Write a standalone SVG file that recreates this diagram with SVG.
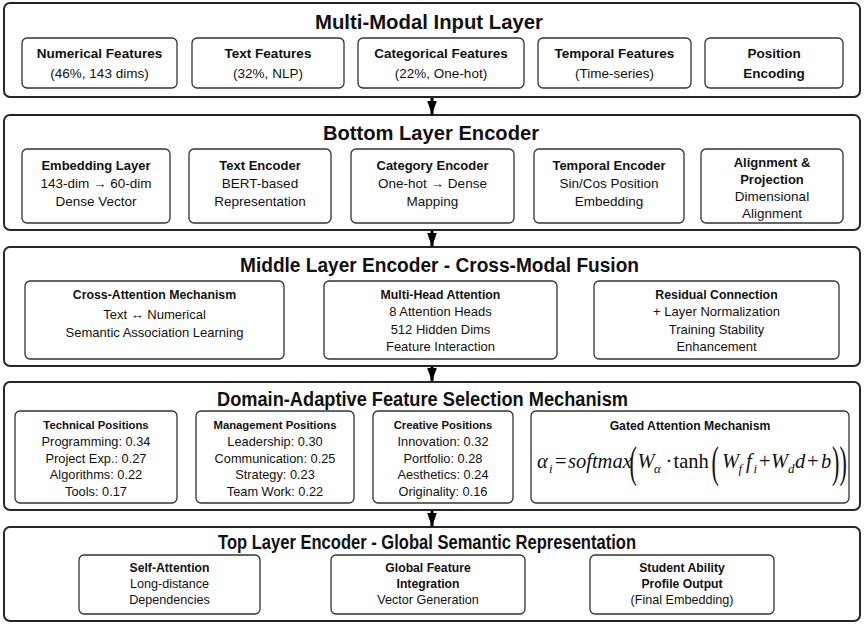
<svg xmlns="http://www.w3.org/2000/svg" width="864" height="625" viewBox="0 0 864 625">
<style>
.panel{fill:#fff;stroke:#262626;stroke-width:2}
.box{fill:#fff;stroke:#333;stroke-width:1.3}
text{font-family:"Liberation Sans",Arial,sans-serif;fill:#111}
.c{text-anchor:middle}
.b{font-weight:bold}
.ttl{font-weight:bold}
.f1{font-size:13.5px}
.f2{font-size:13.5px}
.f2b{font-size:13px}
.f3{font-size:13px}
.f3b{font-size:12.3px}
.f4{font-size:12.8px}
.f4b{font-size:11.3px}
.f5{font-size:12.6px}
.f5b{font-size:12.2px}
.m{font-family:"Liberation Serif","Times New Roman",serif;font-size:20.5px}
.mi{font-family:"Liberation Serif","Times New Roman",serif;font-size:20.5px;font-style:italic}
.ms{font-family:"Liberation Serif","Times New Roman",serif;font-size:13px;font-style:italic}
.mp{font-family:"Liberation Serif","Times New Roman",serif;font-size:44px}
.conn{stroke:#000;stroke-width:3;fill:none}
</style>
<defs>
<marker id="ah" markerUnits="userSpaceOnUse" markerWidth="14" markerHeight="10" refX="14" refY="5" orient="auto">
<path d="M0,0 L14,5 L0,10 Z" fill="#000"/>
</marker>
</defs>
<rect width="864" height="625" fill="#fff"/>

<g id="layer1">
<rect class="panel" x="4" y="3" width="856" height="94" rx="6"/>
<text class="ttl" x="315" y="29" font-size="21" textLength="228" lengthAdjust="spacingAndGlyphs">Multi-Modal Input Layer</text>
</g>
<g id="numerical-features">
<rect class="box" x="22" y="38" width="155" height="50" rx="5"/>
<text class="c b f1" x="99.5" y="58">Numerical Features</text>
<text class="c f1" x="99.5" y="78">(46%, 143 dims)</text>
</g>
<g id="text-features">
<rect class="box" x="192" y="38" width="152" height="50" rx="5"/>
<text class="c b f1" x="268" y="58">Text Features</text>
<text class="c f1" x="268" y="78">(32%, NLP)</text>
</g>
<g id="categorical-features">
<rect class="box" x="358" y="38" width="166" height="50" rx="5"/>
<text class="c b f1" x="441" y="58">Categorical Features</text>
<text class="c f1" x="441" y="78">(22%, One-hot)</text>
</g>
<g id="temporal-features">
<rect class="box" x="538" y="38" width="153" height="50" rx="5"/>
<text class="c b f1" x="614.5" y="58">Temporal Features</text>
<text class="c f1" x="614.5" y="78">(Time-series)</text>
</g>
<g id="position-encoding">
<rect class="box" x="705" y="38" width="138" height="50" rx="5"/>
<text class="c b f1" x="774" y="58">Position</text>
<text class="c b f1" x="774" y="78">Encoding</text>
</g>

<g id="layer2">
<rect class="panel" x="4" y="115" width="856" height="115" rx="6"/>
<text class="ttl" x="323" y="140" font-size="21" textLength="216" lengthAdjust="spacingAndGlyphs">Bottom Layer Encoder</text>
</g>
<g id="embedding-layer">
<rect class="box" x="22" y="149" width="148" height="74" rx="5"/>
<text class="c b f2b" x="96" y="170">Embedding Layer</text>
<text class="c f2" x="96" y="188">143-dim → 60-dim</text>
<text class="c f2" x="96" y="206">Dense Vector</text>
</g>
<g id="text-encoder">
<rect class="box" x="189" y="149" width="142" height="74" rx="5"/>
<text class="c b f2b" x="260" y="170">Text Encoder</text>
<text class="c f2" x="260" y="188">BERT-based</text>
<text class="c f2" x="260" y="206">Representation</text>
</g>
<g id="category-encoder">
<rect class="box" x="351" y="149" width="163" height="74" rx="5"/>
<text class="c b f2b" x="432.5" y="170">Category Encoder</text>
<text class="c f2" x="432.5" y="188">One-hot → Dense</text>
<text class="c f2" x="432.5" y="206">Mapping</text>
</g>
<g id="temporal-encoder">
<rect class="box" x="534" y="149" width="150" height="74" rx="5"/>
<text class="c b f2b" x="609" y="170">Temporal Encoder</text>
<text class="c f2" x="609" y="188">Sin/Cos Position</text>
<text class="c f2" x="609" y="206">Embedding</text>
</g>
<g id="alignment-projection">
<rect class="box" x="701" y="149" width="142" height="74" rx="5"/>
<text class="c b f2b" x="772" y="167">Alignment &amp;</text>
<text class="c b f2b" x="772" y="184">Projection</text>
<text class="c f2" x="772" y="201">Dimensional</text>
<text class="c f2" x="772" y="218">Alignment</text>
</g>

<g id="layer3">
<rect class="panel" x="4" y="247" width="856" height="119" rx="6"/>
<text class="ttl" x="240" y="272" font-size="20" textLength="399" lengthAdjust="spacingAndGlyphs">Middle Layer Encoder - Cross-Modal Fusion</text>
</g>
<g id="cross-attention">
<rect class="box" x="25" y="281" width="259" height="78" rx="5"/>
<text class="c b f3b" x="154.5" y="299">Cross-Attention Mechanism</text>
<text class="c f3" x="154.5" y="318.5">Text ↔ Numerical</text>
<text class="c f3" x="154.5" y="336.5">Semantic Association Learning</text>
</g>
<g id="multi-head-attention">
<rect class="box" x="324" y="281" width="233" height="78" rx="5"/>
<text class="c b f3b" x="440.5" y="299">Multi-Head Attention</text>
<text class="c f3" x="440.5" y="316">8 Attention Heads</text>
<text class="c f3" x="440.5" y="333.5">512 Hidden Dims</text>
<text class="c f3" x="440.5" y="350.5">Feature Interaction</text>
</g>
<g id="residual-connection">
<rect class="box" x="594" y="281" width="245" height="78" rx="5"/>
<text class="c b f3b" x="716.5" y="299">Residual Connection</text>
<text class="c f3" x="716.5" y="316">+ Layer Normalization</text>
<text class="c f3" x="716.5" y="333.5">Training Stability</text>
<text class="c f3" x="716.5" y="350.5">Enhancement</text>
</g>

<g id="layer4">
<rect class="panel" x="4" y="382" width="856" height="128" rx="6"/>
<text class="ttl" x="217" y="406" font-size="19.5" textLength="411" lengthAdjust="spacingAndGlyphs">Domain-Adaptive Feature Selection Mechanism</text>
</g>
<g id="technical-positions">
<rect class="box" x="15" y="411" width="162" height="92" rx="5"/>
<text class="c b f4b" x="96" y="429">Technical Positions</text>
<text class="c f4" x="96" y="446">Programming: 0.34</text>
<text class="c f4" x="96" y="462.5">Project Exp.: 0.27</text>
<text class="c f4" x="96" y="479">Algorithms: 0.22</text>
<text class="c f4" x="96" y="495.5">Tools: 0.17</text>
</g>
<g id="management-positions">
<rect class="box" x="196" y="411" width="158" height="92" rx="5"/>
<text class="c b f4b" x="275" y="429">Management Positions</text>
<text class="c f4" x="275" y="446">Leadership: 0.30</text>
<text class="c f4" x="275" y="462.5">Communication: 0.25</text>
<text class="c f4" x="275" y="479">Strategy: 0.23</text>
<text class="c f4" x="275" y="495.5">Team Work: 0.22</text>
</g>
<g id="creative-positions">
<rect class="box" x="373" y="411" width="140" height="92" rx="5"/>
<text class="c b f4b" x="443" y="429">Creative Positions</text>
<text class="c f4" x="443" y="446">Innovation: 0.32</text>
<text class="c f4" x="443" y="462.5">Portfolio: 0.28</text>
<text class="c f4" x="443" y="479">Aesthetics: 0.24</text>
<text class="c f4" x="443" y="495.5">Originality: 0.16</text>
</g>
<g id="gated-attention">
<rect class="box" x="531" y="411" width="318" height="92" rx="5"/>
<text class="c b" x="690" y="430" font-size="12.2">Gated Attention Mechanism</text>
<text class="mi" x="537" y="468">α</text>
<text class="ms" x="549" y="473">i</text>
<text class="m" x="555" y="468">=</text>
<text class="mi" x="568" y="468" font-size="17.5">softmax</text>
<text class="mp" transform="translate(629.5,477) scale(0.5,1)">(</text>
<text class="mi" x="637.5" y="468">W</text>
<text class="ms" x="654" y="473">α</text>
<text class="m" x="665.5" y="468">·</text>
<text class="m" x="673.5" y="468">tanh</text>
<text class="mp" transform="translate(711.5,477) scale(0.5,1)">(</text>
<text class="mi" x="722" y="468">W</text>
<text class="ms" x="738.5" y="473">f</text>
<text class="mi" x="746" y="468">f</text>
<text class="ms" x="753.5" y="473">i</text>
<text class="m" x="759" y="468">+</text>
<text class="mi" x="771" y="468">W</text>
<text class="ms" x="788" y="473">d</text>
<text class="mi" x="795" y="468">d</text>
<text class="m" x="807" y="468">+</text>
<text class="mi" x="821" y="468">b</text>
<text class="mp" transform="translate(832,477) scale(0.5,1)">)</text>
<text class="mp" transform="translate(839.5,477) scale(0.5,1)">)</text>
</g>

<g id="layer5">
<rect class="panel" x="4" y="527" width="856" height="94" rx="6"/>
<text class="ttl" x="218" y="548.5" font-size="19.5" textLength="418" lengthAdjust="spacingAndGlyphs">Top Layer Encoder - Global Semantic Representation</text>
</g>
<g id="self-attention">
<rect class="box" x="79" y="555" width="181" height="59" rx="5"/>
<text class="c b f5b" x="169.5" y="571.5">Self-Attention</text>
<text class="c f5" x="169.5" y="587.5">Long-distance</text>
<text class="c f5" x="169.5" y="604">Dependencies</text>
</g>
<g id="global-feature-integration">
<rect class="box" x="331" y="555" width="194" height="59" rx="5"/>
<text class="c b f5b" x="428" y="571.5">Global Feature</text>
<text class="c b f5b" x="428" y="587.5">Integration</text>
<text class="c f5" x="428" y="604">Vector Generation</text>
</g>
<g id="student-ability-profile">
<rect class="box" x="590" y="555" width="184" height="59" rx="5"/>
<text class="c b f5b" x="682" y="571.5">Student Ability</text>
<text class="c b f5b" x="682" y="587.5">Profile Output</text>
<text class="c f5" x="682" y="604">(Final Embedding)</text>
</g>

<g id="connectors">
<line class="conn" x1="432" y1="98" x2="432" y2="114.5" marker-end="url(#ah)"/>
<line class="conn" x1="432" y1="231" x2="432" y2="246.5" marker-end="url(#ah)"/>
<line class="conn" x1="432" y1="367" x2="432" y2="381.5" marker-end="url(#ah)"/>
<line class="conn" x1="432" y1="511" x2="432" y2="526.5" marker-end="url(#ah)"/>
</g>
</svg>
